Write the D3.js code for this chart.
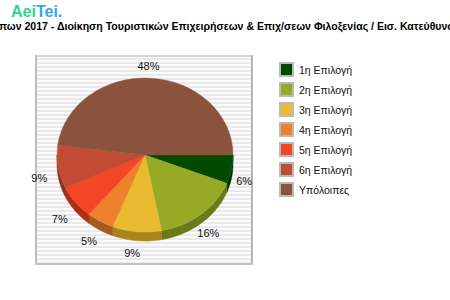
<!DOCTYPE html>
<html lang="el">
<head>
<meta charset="UTF-8">
<title>Pie</title>
<style>
  body { margin: 0; background: #fff; }
  svg { display: block; font-family: "Liberation Sans", Arial, sans-serif; }
</style>
</head>
<body>
<script src="https://d3js.org/d3.v7.min.js"></script>
<script>
// chart data
const categories = ["1η Επιλογή", "2η Επιλογή", "3η Επιλογή", "4η Επιλογή", "5η Επιλογή", "6η Επιλογή", "Υπόλοιπες"];
const values = [6, 16, 9, 5, 7, 9, 48];
const colors = ["#004a00", "#97aa25", "#e8bb30", "#f0812c", "#f44526", "#c24b33", "#8b533e"];
const sideColors = ["#003000", "#6a7a18", "#a8861e", "#a85a1c", "#b02e16", "#8a3222", "#60392a"];
const titleText = "πων 2017 - Διοίκηση Τουριστικών Επιχειρήσεων & Επιχ/σεων Φιλοξενίας / Εισ. Κατεύθυνση";

const W = 450, H = 300;
const svg = d3.select("body").append("svg").attr("width", W).attr("height", H);

// logo
const logo = svg.append("text").attr("x", 11).attr("y", 17)
    .attr("font-size", 16).attr("font-weight", "bold");
logo.append("tspan").attr("fill", "#2fd68a").text("Aei");
logo.append("tspan").attr("fill", "#3aa3ea").text("Tei.");

// title (clipped by the window on both sides)
svg.append("text").attr("x", -1).attr("y", 29.5)
    .attr("font-size", 10).attr("font-weight", "bold").attr("fill", "#000")
    .attr("textLength", 462).attr("lengthAdjust", "spacingAndGlyphs")
    .text(titleText);

// plot area with striped background
const plot = {x: 35, y: 55, w: 218, h: 210};
const defs = svg.append("defs");
const pat = defs.append("pattern").attr("id", "stripes")
    .attr("patternUnits", "userSpaceOnUse").attr("width", 8).attr("height", 4);
pat.append("rect").attr("width", 8).attr("height", 4).attr("fill", "#fbfbfb");
pat.append("rect").attr("y", 2).attr("width", 8).attr("height", 2).attr("fill", "#e9e9e9");

svg.append("rect").attr("x", plot.x).attr("y", plot.y)
    .attr("width", plot.w).attr("height", plot.h).attr("fill", "url(#stripes)");
// frame
svg.append("rect").attr("x", plot.x).attr("y", plot.y).attr("width", plot.w).attr("height", 2).attr("fill", "#d6d6d6");
svg.append("rect").attr("x", plot.x).attr("y", plot.y).attr("width", 2).attr("height", plot.h).attr("fill", "#bdbdbd");
svg.append("rect").attr("x", plot.x + plot.w - 2).attr("y", plot.y).attr("width", 2).attr("height", plot.h).attr("fill", "#b5b5b5");
svg.append("rect").attr("x", plot.x).attr("y", plot.y + plot.h - 2).attr("width", plot.w).attr("height", 2).attr("fill", "#c4c4c4");

// 3d pie
const cx = 145, cy = 155, rx = 88, ry = 77, depth = 9;
const pie = d3.pie().sort(null).value(d => d)
    .startAngle(Math.PI / 2).endAngle(Math.PI / 2 + 2 * Math.PI);
const arcs = pie(values);
const px = a => cx + rx * Math.sin(a);
const py = a => cy - ry * Math.cos(a);
const line = d3.line();

const g = svg.append("g");

// side walls on the front half (angles between PI/2 and 3PI/2 wrapped)
arcs.forEach((d, i) => {
    const segs = [];
    [0, 2 * Math.PI].forEach(off => {
        const lo = Math.max(d.startAngle, Math.PI / 2 + off);
        const hi = Math.min(d.endAngle, 3 * Math.PI / 2 + off);
        if (hi > lo) segs.push([lo, hi]);
    });
    segs.forEach(([lo, hi]) => {
        const n = Math.max(2, Math.ceil((hi - lo) / 0.02));
        const ang = d3.range(n + 1).map(k => lo + (hi - lo) * k / n);
        const pts = ang.map(a => [px(a), py(a)])
            .concat(ang.slice().reverse().map(a => [px(a), py(a) + depth]));
        g.append("path").attr("d", line(pts) + "Z")
            .attr("fill", sideColors[i]).attr("stroke", sideColors[i]).attr("stroke-width", 0.5);
    });
});

// top face
const arc = d3.arc().innerRadius(0).outerRadius(rx);
g.append("g").attr("transform", `translate(${cx},${cy}) scale(1,${ry / rx})`)
    .selectAll("path").data(arcs).join("path")
    .attr("d", arc)
    .attr("fill", (d, i) => colors[i])
    .attr("stroke", (d, i) => colors[i]).attr("stroke-width", 0.5);

// percentage labels
const total = d3.sum(values);
svg.append("g").selectAll("text").data(arcs).join("text")
    .attr("x", d => cx - 3 + (rx + 16) * Math.sin((d.startAngle + d.endAngle) / 2))
    .attr("y", d => {
        const a = (d.startAngle + d.endAngle) / 2;
        const s = -Math.cos(a);
        return cy + (ry + 12) * s + (s > 0 ? depth : 0);
    })
    .attr("text-anchor", "middle").attr("dominant-baseline", "central")
    .attr("font-size", 11).attr("fill", "#111")
    .text(d => Math.round(d.value / total * 100) + "%");

// legend
const legend = svg.append("g").attr("transform", "translate(279,62)");
const rows = legend.selectAll("g").data(categories).join("g")
    .attr("transform", (d, i) => `translate(0,${i * 20})`);
rows.append("rect").attr("width", 15).attr("height", 15).attr("fill", "#b9b9b9");
rows.append("rect").attr("x", 2).attr("y", 2).attr("width", 11).attr("height", 11)
    .attr("fill", (d, i) => colors[i]);
rows.append("text").attr("x", 20).attr("y", 7.5)
    .attr("dominant-baseline", "central")
    .attr("font-size", 10.5).attr("fill", "#111")
    .text(d => d);
</script>
</body>
</html>
